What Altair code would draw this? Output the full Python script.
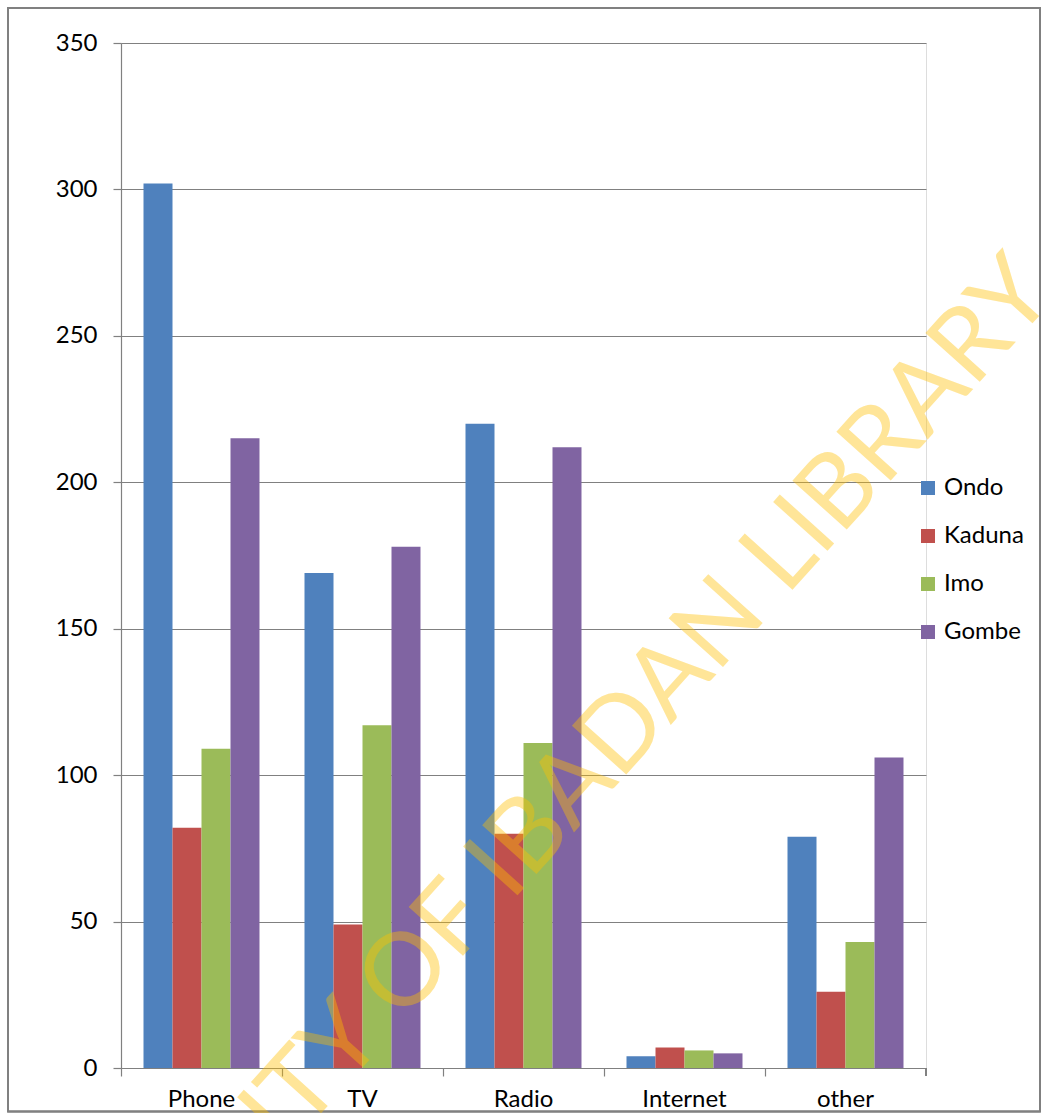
import altair as alt
import pandas as pd

# ---- data ----
categories = ["Phone", "TV", "Radio", "Internet", "other"]
series = ["Ondo", "Kaduna", "Imo", "Gombe"]
ondo = [302, 169, 220, 4, 79]
kaduna = [82, 49, 80, 7, 26]
imo = [109, 117, 111, 6, 43]
gombe = [215, 178, 212, 5, 106]
colors = ["#4F81BD", "#C0504D", "#9BBB59", "#8064A2"]
y_ticks = [0, 50, 100, 150, 200, 250, 300, 350]
watermark_text = "UNIVERSITY OF IBADAN LIBRARY"

rows = []
for s, vals in zip(series, [ondo, kaduna, imo, gombe]):
    for c, v in zip(categories, vals):
        rows.append({"Category": c, "Series": s, "Value": v})
df = pd.DataFrame(rows)
cat_df = pd.DataFrame({"Category": categories})

FONT = "Lato"
GREY = "#808080"
W, H = 805, 1025

x_scale = alt.Scale(domain=categories, paddingInner=0, paddingOuter=0)

bars = alt.Chart(df).mark_bar().encode(
    x=alt.X("Category:N", sort=categories, scale=x_scale,
            axis=alt.Axis(title=None, orient="bottom", labels=False, ticks=True,
                          bandPosition=0, tickSize=8, tickColor=GREY, domainColor=GREY,
                          domainWidth=1.2, tickWidth=1.2, grid=False)),
    xOffset=alt.XOffset("Series:N", sort=series,
                        scale=alt.Scale(domain=series, paddingInner=0, paddingOuter=0.776)),
    y=alt.Y("Value:Q", scale=alt.Scale(domain=[0, 350], nice=False),
            axis=alt.Axis(title=None, values=y_ticks, grid=True, gridColor=GREY, gridWidth=1.2,
                          domainColor=GREY, domainWidth=1.2, tickColor=GREY, tickWidth=1.2,
                          tickSize=8, labelFont=FONT, labelFontSize=24,
                          labelColor="#000000", labelPadding=16)),
    color=alt.Color("Series:N", sort=series,
                    scale=alt.Scale(domain=series, range=colors),
                    legend=alt.Legend(title=None, orient="none", legendX=795, legendY=433,
                                      symbolType="square", symbolSize=196,
                                      symbolStrokeWidth=0, labelFont=FONT,
                                      labelFontSize=24, labelColor="#000000",
                                      labelOffset=4, rowPadding=24, padding=0)),
)

labels_layer = alt.Chart(cat_df).mark_text(opacity=0).encode(
    x=alt.X("Category:N", sort=categories, scale=x_scale,
            axis=alt.Axis(title=None, orient="bottom", labels=True, ticks=False,
                          domain=False, grid=False, labelFont=FONT, labelFontSize=24,
                          labelColor="#000000", labelPadding=19, labelAngle=0)),
    text=alt.Text("Category:N"),
)

end_tick = alt.Chart(cat_df).mark_rule(color=GREY, strokeWidth=1.2).encode(
    x=alt.value(W), y=alt.value(H), y2=alt.value(H + 8)
)

frame = alt.Chart(cat_df).mark_rect(fillOpacity=0, stroke=GREY, strokeWidth=1.5).encode(
    x=alt.value(-113), x2=alt.value(919), y=alt.value(-35), y2=alt.value(1068.5)
)

watermark = alt.Chart(pd.DataFrame({"t": [watermark_text]})).mark_text(
    angle=312, align="right", baseline="alphabetic", font=FONT, fontSize=102,
    color="#FFC000", opacity=0.4
).encode(x=alt.value(936), y=alt.value(253), text="t:N")

chart = alt.layer(frame, bars, labels_layer, end_tick, watermark).resolve_axis(
    x="independent"
).properties(
    width=W, height=H,
    autosize=alt.AutoSizeParams(type="none"),
    padding={"left": 121, "top": 43, "right": 115, "bottom": 45},
).configure_view(stroke=None).configure(background="white")

chart.save("out.html", embed_options={"renderer": "svg", "actions": False})
